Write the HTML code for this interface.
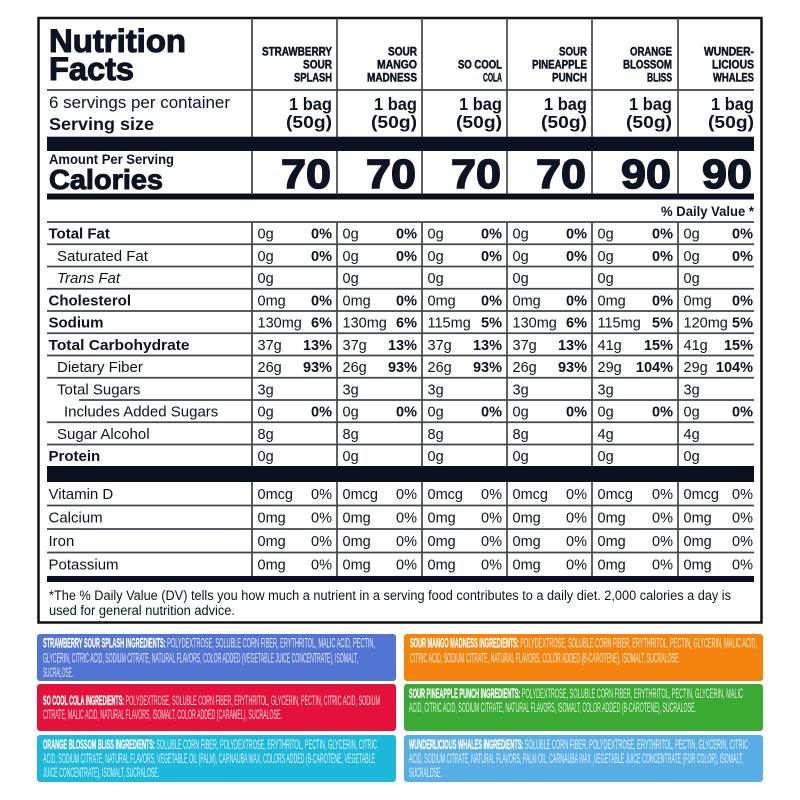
<!DOCTYPE html>
<html><head><meta charset="utf-8">
<style>
html,body{margin:0;padding:0;background:#fff;}
svg{display:block;}
.t{font-family:"Liberation Sans",sans-serif;fill:#0c1322;}
.b{font-weight:700;}
.n{font-family:"Liberation Sans Narrow","Liberation Sans",sans-serif;font-weight:700;fill:#0c1322;stroke:#0c1322;stroke-width:0.45;}
.v{font-family:"Liberation Sans",sans-serif;font-size:14.5px;fill:#0c1322;}
.p{font-family:"Liberation Sans",sans-serif;font-size:14.5px;font-weight:700;fill:#0c1322;text-anchor:end;}
.pr{font-family:"Liberation Sans",sans-serif;font-size:14.5px;fill:#0c1322;text-anchor:end;}
.lb{font-family:"Liberation Sans",sans-serif;font-size:15px;font-weight:700;fill:#0c1322;}
.lr{font-family:"Liberation Sans",sans-serif;font-size:15px;fill:#0c1322;}
.ing{font-family:"Liberation Sans Narrow","Liberation Sans",sans-serif;font-size:14px;fill:#fff;}
.ing .hb{font-weight:700;fill:#fff;stroke:#fff;stroke-width:0.35;}
.ing .rg{fill:#fff;fill-opacity:0.85;}
.gl{stroke:#41454e;stroke-width:1.7;}
</style></head>
<body>
<svg width="800" height="800" viewBox="0 0 800 800" xmlns="http://www.w3.org/2000/svg">
<rect width="800" height="800" fill="#fff"/>
<rect x="38.5" y="18" width="723" height="604.5" fill="none" stroke="#111" stroke-width="2.5"/>

<rect x="47" y="136.7" width="707" height="14.3" fill="#0b1120"/>
<rect x="47" y="193.5" width="707" height="6" fill="#0b1120"/>
<rect x="47" y="466" width="707" height="16" fill="#0b1120"/>
<rect x="47" y="576" width="707" height="6" fill="#0b1120"/>

<g class="gl">
<line x1="47" y1="90" x2="754" y2="90"/>
<line x1="47" y1="222" x2="754" y2="222"/>
<line x1="47" y1="244.25" x2="754" y2="244.25"/>
<line x1="47" y1="266.5" x2="754" y2="266.5"/>
<line x1="47" y1="288.75" x2="754" y2="288.75"/>
<line x1="47" y1="311" x2="754" y2="311"/>
<line x1="47" y1="333.25" x2="754" y2="333.25"/>
<line x1="47" y1="355.5" x2="754" y2="355.5"/>
<line x1="47" y1="377.75" x2="754" y2="377.75"/>
<line x1="79" y1="400" x2="754" y2="400"/>
<line x1="47" y1="422.25" x2="754" y2="422.25"/>
<line x1="47" y1="444.5" x2="754" y2="444.5"/>
<line x1="47" y1="505.5" x2="754" y2="505.5"/>
<line x1="47" y1="529" x2="754" y2="529"/>
<line x1="47" y1="552.5" x2="754" y2="552.5"/>
</g>
<g class="gl">
<line x1="252" y1="18" x2="252" y2="137"/><line x1="252" y1="151" x2="252" y2="194"/><line x1="252" y1="222" x2="252" y2="466"/><line x1="252" y1="482" x2="252" y2="576"/>
<line x1="337" y1="18" x2="337" y2="137"/><line x1="337" y1="151" x2="337" y2="194"/><line x1="337" y1="222" x2="337" y2="466"/><line x1="337" y1="482" x2="337" y2="576"/>
<line x1="422" y1="18" x2="422" y2="137"/><line x1="422" y1="151" x2="422" y2="194"/><line x1="422" y1="222" x2="422" y2="466"/><line x1="422" y1="482" x2="422" y2="576"/>
<line x1="507" y1="18" x2="507" y2="137"/><line x1="507" y1="151" x2="507" y2="194"/><line x1="507" y1="222" x2="507" y2="466"/><line x1="507" y1="482" x2="507" y2="576"/>
<line x1="592" y1="18" x2="592" y2="137"/><line x1="592" y1="151" x2="592" y2="194"/><line x1="592" y1="222" x2="592" y2="466"/><line x1="592" y1="482" x2="592" y2="576"/>
<line x1="678" y1="18" x2="678" y2="137"/><line x1="678" y1="151" x2="678" y2="194"/><line x1="678" y1="222" x2="678" y2="466"/><line x1="678" y1="482" x2="678" y2="576"/>
</g>

<text class="t b" x="49" y="52" font-size="32" stroke="#0c1322" stroke-width="1.1" textLength="137" lengthAdjust="spacingAndGlyphs">Nutrition</text>
<text class="t b" x="49" y="80" font-size="32" stroke="#0c1322" stroke-width="1.1" textLength="85" lengthAdjust="spacingAndGlyphs">Facts</text>

<g font-size="11.5" text-anchor="end">
<text class="n" x="332" y="55.5" textLength="70" lengthAdjust="spacingAndGlyphs">STRAWBERRY</text>
<text class="n" x="332" y="68.5" textLength="29" lengthAdjust="spacingAndGlyphs">SOUR</text>
<text class="n" x="332" y="81.5" textLength="38" lengthAdjust="spacingAndGlyphs">SPLASH</text>
<text class="n" x="417" y="55.5" textLength="29" lengthAdjust="spacingAndGlyphs">SOUR</text>
<text class="n" x="417" y="68.5" textLength="40" lengthAdjust="spacingAndGlyphs">MANGO</text>
<text class="n" x="417" y="81.5" textLength="50" lengthAdjust="spacingAndGlyphs">MADNESS</text>
<text class="n" x="502" y="68.5" textLength="44" lengthAdjust="spacingAndGlyphs">SO COOL</text>
<text class="n" x="502" y="81.5" textLength="19" lengthAdjust="spacingAndGlyphs">COLA</text>
<text class="n" x="587" y="55.5" textLength="28" lengthAdjust="spacingAndGlyphs">SOUR</text>
<text class="n" x="587" y="68.5" textLength="55" lengthAdjust="spacingAndGlyphs">PINEAPPLE</text>
<text class="n" x="587" y="81.5" textLength="35" lengthAdjust="spacingAndGlyphs">PUNCH</text>
<text class="n" x="672" y="55.5" textLength="42" lengthAdjust="spacingAndGlyphs">ORANGE</text>
<text class="n" x="672" y="68.5" textLength="49" lengthAdjust="spacingAndGlyphs">BLOSSOM</text>
<text class="n" x="672" y="81.5" textLength="25" lengthAdjust="spacingAndGlyphs">BLISS</text>
<text class="n" x="754" y="55.5" textLength="50" lengthAdjust="spacingAndGlyphs">WUNDER-</text>
<text class="n" x="754" y="68.5" textLength="42" lengthAdjust="spacingAndGlyphs">LICIOUS</text>
<text class="n" x="754" y="81.5" textLength="41" lengthAdjust="spacingAndGlyphs">WHALES</text>
</g>

<text class="t" x="49" y="108" font-size="17" textLength="181" lengthAdjust="spacingAndGlyphs">6 servings per container</text>
<text class="t b" x="49" y="130" font-size="17.5" textLength="105" lengthAdjust="spacingAndGlyphs">Serving size</text>
<g class="t b" font-size="17.5" text-anchor="end">
<text x="332" y="110" textLength="43" lengthAdjust="spacingAndGlyphs">1 bag</text><text x="332" y="128" textLength="46" lengthAdjust="spacingAndGlyphs">(50g)</text>
<text x="417" y="110" textLength="43" lengthAdjust="spacingAndGlyphs">1 bag</text><text x="417" y="128" textLength="46" lengthAdjust="spacingAndGlyphs">(50g)</text>
<text x="502" y="110" textLength="43" lengthAdjust="spacingAndGlyphs">1 bag</text><text x="502" y="128" textLength="46" lengthAdjust="spacingAndGlyphs">(50g)</text>
<text x="587" y="110" textLength="43" lengthAdjust="spacingAndGlyphs">1 bag</text><text x="587" y="128" textLength="46" lengthAdjust="spacingAndGlyphs">(50g)</text>
<text x="672" y="110" textLength="43" lengthAdjust="spacingAndGlyphs">1 bag</text><text x="672" y="128" textLength="46" lengthAdjust="spacingAndGlyphs">(50g)</text>
<text x="754" y="110" textLength="43" lengthAdjust="spacingAndGlyphs">1 bag</text><text x="754" y="128" textLength="46" lengthAdjust="spacingAndGlyphs">(50g)</text>
</g>

<text class="t b" x="49" y="164" font-size="13.5" textLength="125" lengthAdjust="spacingAndGlyphs">Amount Per Serving</text>
<text class="t b" x="49" y="189" font-size="28" stroke="#0c1322" stroke-width="1" textLength="114" lengthAdjust="spacingAndGlyphs">Calories</text>
<g class="t b" font-size="41" text-anchor="end" stroke="#0c1322" stroke-width="1.5">
<text x="331" y="188" textLength="50" lengthAdjust="spacingAndGlyphs">70</text>
<text x="416" y="188" textLength="50" lengthAdjust="spacingAndGlyphs">70</text>
<text x="501" y="188" textLength="50" lengthAdjust="spacingAndGlyphs">70</text>
<text x="586" y="188" textLength="50" lengthAdjust="spacingAndGlyphs">70</text>
<text x="671" y="188" textLength="50" lengthAdjust="spacingAndGlyphs">90</text>
<text x="752" y="188" textLength="50" lengthAdjust="spacingAndGlyphs">90</text>
</g>

<text class="t b" x="754" y="216" font-size="13.5" text-anchor="end" textLength="93" lengthAdjust="spacingAndGlyphs">% Daily Value *</text>

<text class="lb" x="48.5" y="238.5">Total Fat</text>
<text class="lr" x="57" y="260.75">Saturated Fat</text>
<text class="lr" x="57" y="283" font-style="italic">Trans Fat</text>
<text class="lb" x="48.5" y="305.25">Cholesterol</text>
<text class="lb" x="48.5" y="327.5">Sodium</text>
<text class="lb" x="48.5" y="349.75" textLength="141" lengthAdjust="spacingAndGlyphs">Total Carbohydrate</text>
<text class="lr" x="57" y="372">Dietary Fiber</text>
<text class="lr" x="57" y="394.25">Total Sugars</text>
<text class="lr" x="64" y="416.5">Includes Added Sugars</text>
<text class="lr" x="57" y="438.75">Sugar Alcohol</text>
<text class="lb" x="48.5" y="461">Protein</text>
<text class="lr" x="48.5" y="499">Vitamin D</text>
<text class="lr" x="48.5" y="522.5">Calcium</text>
<text class="lr" x="48.5" y="546">Iron</text>
<text class="lr" x="48.5" y="569.5">Potassium</text>

<g>
<text class="v" x="257.5" y="238.5">0g</text><text class="p" x="332" y="238.5">0%</text>
<text class="v" x="257.5" y="260.75">0g</text><text class="p" x="332" y="260.75">0%</text>
<text class="v" x="257.5" y="283">0g</text>
<text class="v" x="257.5" y="305.25">0mg</text><text class="p" x="332" y="305.25">0%</text>
<text class="v" x="257.5" y="327.5">130mg</text><text class="p" x="332" y="327.5">6%</text>
<text class="v" x="257.5" y="349.75">37g</text><text class="p" x="332" y="349.75">13%</text>
<text class="v" x="257.5" y="372">26g</text><text class="p" x="332" y="372">93%</text>
<text class="v" x="257.5" y="394.25">3g</text>
<text class="v" x="257.5" y="416.5">0g</text><text class="p" x="332" y="416.5">0%</text>
<text class="v" x="257.5" y="438.75">8g</text>
<text class="v" x="257.5" y="461">0g</text>
<text class="v" x="257.5" y="499">0mcg</text><text class="pr" x="332" y="499">0%</text>
<text class="v" x="257.5" y="522.5">0mg</text><text class="pr" x="332" y="522.5">0%</text>
<text class="v" x="257.5" y="546">0mg</text><text class="pr" x="332" y="546">0%</text>
<text class="v" x="257.5" y="569.5">0mg</text><text class="pr" x="332" y="569.5">0%</text>
</g>
<g>
<text class="v" x="342.5" y="238.5">0g</text><text class="p" x="417" y="238.5">0%</text>
<text class="v" x="342.5" y="260.75">0g</text><text class="p" x="417" y="260.75">0%</text>
<text class="v" x="342.5" y="283">0g</text>
<text class="v" x="342.5" y="305.25">0mg</text><text class="p" x="417" y="305.25">0%</text>
<text class="v" x="342.5" y="327.5">130mg</text><text class="p" x="417" y="327.5">6%</text>
<text class="v" x="342.5" y="349.75">37g</text><text class="p" x="417" y="349.75">13%</text>
<text class="v" x="342.5" y="372">26g</text><text class="p" x="417" y="372">93%</text>
<text class="v" x="342.5" y="394.25">3g</text>
<text class="v" x="342.5" y="416.5">0g</text><text class="p" x="417" y="416.5">0%</text>
<text class="v" x="342.5" y="438.75">8g</text>
<text class="v" x="342.5" y="461">0g</text>
<text class="v" x="342.5" y="499">0mcg</text><text class="pr" x="417" y="499">0%</text>
<text class="v" x="342.5" y="522.5">0mg</text><text class="pr" x="417" y="522.5">0%</text>
<text class="v" x="342.5" y="546">0mg</text><text class="pr" x="417" y="546">0%</text>
<text class="v" x="342.5" y="569.5">0mg</text><text class="pr" x="417" y="569.5">0%</text>
</g>
<g>
<text class="v" x="427.5" y="238.5">0g</text><text class="p" x="502" y="238.5">0%</text>
<text class="v" x="427.5" y="260.75">0g</text><text class="p" x="502" y="260.75">0%</text>
<text class="v" x="427.5" y="283">0g</text>
<text class="v" x="427.5" y="305.25">0mg</text><text class="p" x="502" y="305.25">0%</text>
<text class="v" x="427.5" y="327.5">115mg</text><text class="p" x="502" y="327.5">5%</text>
<text class="v" x="427.5" y="349.75">37g</text><text class="p" x="502" y="349.75">13%</text>
<text class="v" x="427.5" y="372">26g</text><text class="p" x="502" y="372">93%</text>
<text class="v" x="427.5" y="394.25">3g</text>
<text class="v" x="427.5" y="416.5">0g</text><text class="p" x="502" y="416.5">0%</text>
<text class="v" x="427.5" y="438.75">8g</text>
<text class="v" x="427.5" y="461">0g</text>
<text class="v" x="427.5" y="499">0mcg</text><text class="pr" x="502" y="499">0%</text>
<text class="v" x="427.5" y="522.5">0mg</text><text class="pr" x="502" y="522.5">0%</text>
<text class="v" x="427.5" y="546">0mg</text><text class="pr" x="502" y="546">0%</text>
<text class="v" x="427.5" y="569.5">0mg</text><text class="pr" x="502" y="569.5">0%</text>
</g>
<g>
<text class="v" x="512.5" y="238.5">0g</text><text class="p" x="587" y="238.5">0%</text>
<text class="v" x="512.5" y="260.75">0g</text><text class="p" x="587" y="260.75">0%</text>
<text class="v" x="512.5" y="283">0g</text>
<text class="v" x="512.5" y="305.25">0mg</text><text class="p" x="587" y="305.25">0%</text>
<text class="v" x="512.5" y="327.5">130mg</text><text class="p" x="587" y="327.5">6%</text>
<text class="v" x="512.5" y="349.75">37g</text><text class="p" x="587" y="349.75">13%</text>
<text class="v" x="512.5" y="372">26g</text><text class="p" x="587" y="372">93%</text>
<text class="v" x="512.5" y="394.25">3g</text>
<text class="v" x="512.5" y="416.5">0g</text><text class="p" x="587" y="416.5">0%</text>
<text class="v" x="512.5" y="438.75">8g</text>
<text class="v" x="512.5" y="461">0g</text>
<text class="v" x="512.5" y="499">0mcg</text><text class="pr" x="587" y="499">0%</text>
<text class="v" x="512.5" y="522.5">0mg</text><text class="pr" x="587" y="522.5">0%</text>
<text class="v" x="512.5" y="546">0mg</text><text class="pr" x="587" y="546">0%</text>
<text class="v" x="512.5" y="569.5">0mg</text><text class="pr" x="587" y="569.5">0%</text>
</g>
<g>
<text class="v" x="597.5" y="238.5">0g</text><text class="p" x="673" y="238.5">0%</text>
<text class="v" x="597.5" y="260.75">0g</text><text class="p" x="673" y="260.75">0%</text>
<text class="v" x="597.5" y="283">0g</text>
<text class="v" x="597.5" y="305.25">0mg</text><text class="p" x="673" y="305.25">0%</text>
<text class="v" x="597.5" y="327.5">115mg</text><text class="p" x="673" y="327.5">5%</text>
<text class="v" x="597.5" y="349.75">41g</text><text class="p" x="673" y="349.75">15%</text>
<text class="v" x="597.5" y="372">29g</text><text class="p" x="673" y="372">104%</text>
<text class="v" x="597.5" y="394.25">3g</text>
<text class="v" x="597.5" y="416.5">0g</text><text class="p" x="673" y="416.5">0%</text>
<text class="v" x="597.5" y="438.75">4g</text>
<text class="v" x="597.5" y="461">0g</text>
<text class="v" x="597.5" y="499">0mcg</text><text class="pr" x="673" y="499">0%</text>
<text class="v" x="597.5" y="522.5">0mg</text><text class="pr" x="673" y="522.5">0%</text>
<text class="v" x="597.5" y="546">0mg</text><text class="pr" x="673" y="546">0%</text>
<text class="v" x="597.5" y="569.5">0mg</text><text class="pr" x="673" y="569.5">0%</text>
</g>
<g>
<text class="v" x="683.5" y="238.5">0g</text><text class="p" x="753" y="238.5">0%</text>
<text class="v" x="683.5" y="260.75">0g</text><text class="p" x="753" y="260.75">0%</text>
<text class="v" x="683.5" y="283">0g</text>
<text class="v" x="683.5" y="305.25">0mg</text><text class="p" x="753" y="305.25">0%</text>
<text class="v" x="683.5" y="327.5">120mg</text><text class="p" x="753" y="327.5">5%</text>
<text class="v" x="683.5" y="349.75">41g</text><text class="p" x="753" y="349.75">15%</text>
<text class="v" x="683.5" y="372">29g</text><text class="p" x="753" y="372">104%</text>
<text class="v" x="683.5" y="394.25">3g</text>
<text class="v" x="683.5" y="416.5">0g</text><text class="p" x="753" y="416.5">0%</text>
<text class="v" x="683.5" y="438.75">4g</text>
<text class="v" x="683.5" y="461">0g</text>
<text class="v" x="683.5" y="499">0mcg</text><text class="pr" x="753" y="499">0%</text>
<text class="v" x="683.5" y="522.5">0mg</text><text class="pr" x="753" y="522.5">0%</text>
<text class="v" x="683.5" y="546">0mg</text><text class="pr" x="753" y="546">0%</text>
<text class="v" x="683.5" y="569.5">0mg</text><text class="pr" x="753" y="569.5">0%</text>
</g>

<text class="t" x="49" y="600" font-size="13.5" textLength="682" lengthAdjust="spacingAndGlyphs">*The % Daily Value (DV) tells you how much a nutrient in a serving food contributes to a daily diet. 2,000 calories a day is</text>
<text class="t" x="49" y="615" font-size="13.5" textLength="186" lengthAdjust="spacingAndGlyphs">used for general nutrition advice.</text>

<rect x="37" y="634" width="359" height="47" rx="3" fill="#5274d2"/>
<rect x="404" y="634" width="359" height="47" rx="3" fill="#f5840f"/>
<rect x="37" y="684" width="359" height="47" rx="3" fill="#e4113a"/>
<rect x="404" y="684" width="359" height="47" rx="3" fill="#3aaa32"/>
<rect x="37" y="735" width="359" height="47" rx="3" fill="#1db8da"/>
<rect x="404" y="735" width="359" height="47" rx="3" fill="#58afe6"/>

<text class="ing" x="43" y="647.5" textLength="332" lengthAdjust="spacingAndGlyphs"><tspan class="hb">STRAWBERRY SOUR SPLASH INGREDIENTS:</tspan><tspan class="rg"> POLYDEXTROSE, SOLUBLE CORN FIBER, ERYTHRITOL, MALIC ACID, PECTIN,</tspan></text>
<text class="ing" x="43" y="662.5" textLength="315" lengthAdjust="spacingAndGlyphs"><tspan class="rg">GLYCERIN, CITRIC ACID, SODIUM CITRATE, NATURAL FLAVORS, COLOR ADDED (VEGETABLE JUICE CONCENTRATE), ISOMALT,</tspan></text>
<text class="ing" x="43" y="677" textLength="30" lengthAdjust="spacingAndGlyphs"><tspan class="rg">SUCRALOSE.</tspan></text>

<text class="ing" x="410" y="647.5" textLength="347" lengthAdjust="spacingAndGlyphs"><tspan class="hb">SOUR MANGO MADNESS INGREDIENTS:</tspan><tspan class="rg"> POLYDEXTROSE, SOLUBLE CORN FIBER, ERYTHRITOL, PECTIN, GLYCERIN, MALIC ACID,</tspan></text>
<text class="ing" x="410" y="662.5" textLength="270" lengthAdjust="spacingAndGlyphs"><tspan class="rg">CITRIC ACID, SODIUM CITRATE, NATURAL FLAVORS, COLOR ADDED (B-CAROTENE), ISOMALT, SUCRALOSE.</tspan></text>

<text class="ing" x="43" y="705" textLength="337" lengthAdjust="spacingAndGlyphs"><tspan class="hb">SO COOL COLA INGREDIENTS:</tspan><tspan class="rg"> POLYDEXTROSE, SOLUBLE CORN FIBER, ERYTHRITOL, GLYCERIN, PECTIN, CITRIC ACID, SODIUM</tspan></text>
<text class="ing" x="43" y="719" textLength="239" lengthAdjust="spacingAndGlyphs"><tspan class="rg">CITRATE, MALIC ACID, NATURAL FLAVORS, ISOMALT, COLOR ADDED (CARAMEL), SUCRALOSE.</tspan></text>

<text class="ing" x="409" y="698" textLength="334" lengthAdjust="spacingAndGlyphs"><tspan class="hb">SOUR PINEAPPLE PUNCH INGREDIENTS:</tspan><tspan class="rg"> POLYDEXTROSE, SOLUBLE CORN FIBER, ERYTHRITOL, PECTIN, GLYCERIN, MALIC</tspan></text>
<text class="ing" x="409" y="712" textLength="287" lengthAdjust="spacingAndGlyphs"><tspan class="rg">ACID, CITRIC ACID, SODIUM CITRATE, NATURAL FLAVORS, ISOMALT, COLOR ADDED (B-CAROTENE), SUCRALOSE.</tspan></text>

<text class="ing" x="43" y="749" textLength="334" lengthAdjust="spacingAndGlyphs"><tspan class="hb">ORANGE BLOSSOM BLISS INGREDIENTS:</tspan><tspan class="rg"> SOLUBLE CORN FIBER, POLYDEXTROSE, ERYTHRITOL, PECTIN, GLYCERIN, CITRIC</tspan></text>
<text class="ing" x="43" y="763" textLength="332" lengthAdjust="spacingAndGlyphs"><tspan class="rg">ACID, SODIUM CITRATE,  NATURAL FLAVORS, VEGETABLE OIL (PALM), CARNAUBA WAX, COLORS ADDED (B-CAROTENE, VEGETABLE</tspan></text>
<text class="ing" x="43" y="777" textLength="116" lengthAdjust="spacingAndGlyphs"><tspan class="rg">JUICE CONCENTRATE), ISOMALT, SUCRALOSE.</tspan></text>

<text class="ing" x="409" y="749" textLength="339" lengthAdjust="spacingAndGlyphs"><tspan class="hb">WUNDERLICIOUS WHALES INGREDIENTS:</tspan><tspan class="rg"> SOLUBLE CORN FIBER, POLYDEXTROSE, ERYTHRITOL, PECTIN, GLYCERIN, CITRIC</tspan></text>
<text class="ing" x="409" y="763" textLength="334" lengthAdjust="spacingAndGlyphs"><tspan class="rg">ACID, SODIUM CITRATE, NATURAL FLAVORS, PALM OIL, CARNAUBA WAX ,VEGETABLE JUICE CONCENTRATE (FOR COLOR), ISOMALT,</tspan></text>
<text class="ing" x="409" y="777" textLength="33" lengthAdjust="spacingAndGlyphs"><tspan class="rg">SUCRALOSE.</tspan></text>
</svg>
</body></html>
